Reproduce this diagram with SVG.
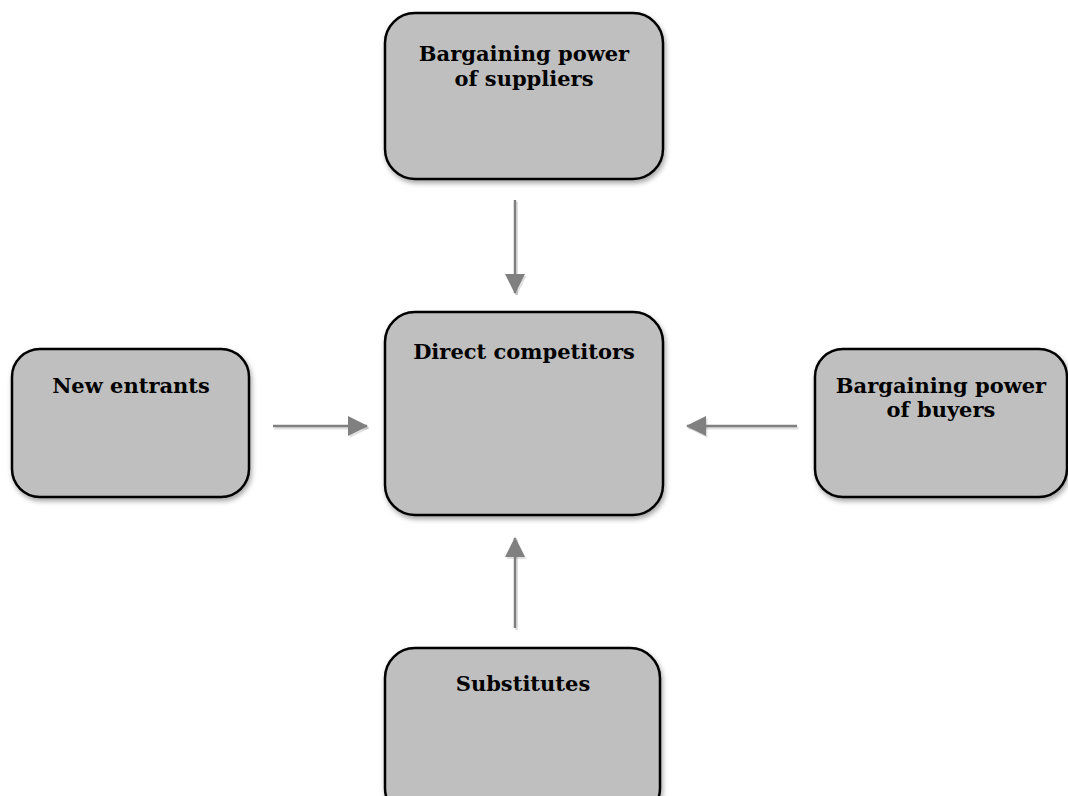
<svg xmlns="http://www.w3.org/2000/svg" width="1068" height="796" viewBox="0 0 1068 796">
  <style>
    .box { fill: #bfbfbf; stroke: #000000; stroke-width: 2.5; filter: url(#shadow); }
    .lbl { font-family: "DejaVu Serif", "Liberation Serif", serif; font-weight: bold; font-size: 21px; fill: #000000; text-anchor: middle; }
    .conn { stroke: #808080; stroke-width: 2.5; fill: none; marker-end: url(#arrow); }
    .cshadow { stroke: #000000; stroke-opacity: 0.12; stroke-width: 3; fill: none; marker-end: url(#arrowsh); }
  </style>
  <defs>
    <filter id="shadow" x="-10%" y="-10%" width="125%" height="130%">
      <feDropShadow dx="1.5" dy="3" stdDeviation="2.5" flood-color="#000000" flood-opacity="0.35"/>
    </filter>
    <marker id="arrow" viewBox="0 0 20 20" refX="19" refY="10" markerWidth="20" markerHeight="20" markerUnits="userSpaceOnUse" orient="auto">
      <path d="M0,0 L20,10 L0,20 Z" fill="#808080"/>
    </marker>
    <marker id="arrowsh" viewBox="0 0 20 20" refX="19" refY="10" markerWidth="20" markerHeight="20" markerUnits="userSpaceOnUse" orient="auto">
      <path d="M0,0 L20,10 L0,20 Z" fill="#000000" fill-opacity="0.12"/>
    </marker>
  </defs>
  <rect width="1068" height="796" fill="#ffffff"/>

  <g id="connectors">
    <line class="cshadow" x1="516.5" y1="202" x2="516.5" y2="295"/>
    <line class="cshadow" x1="274.5" y1="428" x2="368.5" y2="428"/>
    <line class="cshadow" x1="798.5" y1="428" x2="688.5" y2="428"/>
    <line class="cshadow" x1="516.5" y1="630" x2="516.5" y2="540"/>
    <line class="conn" x1="515" y1="200" x2="515" y2="293"/>
    <line class="conn" x1="273" y1="426" x2="367" y2="426"/>
    <line class="conn" x1="797" y1="426" x2="687" y2="426"/>
    <line class="conn" x1="515" y1="628" x2="515" y2="538"/>
  </g>

  <g id="suppliers">
    <rect class="box" x="385" y="13" width="278" height="166" rx="30" ry="30"/>
    <text class="lbl" x="524" y="61">Bargaining power</text>
    <text class="lbl" x="524" y="86">of suppliers</text>
  </g>

  <g id="competitors">
    <rect class="box" x="385" y="312" width="278" height="203" rx="30" ry="30"/>
    <text class="lbl" x="524" y="359">Direct competitors</text>
  </g>

  <g id="entrants">
    <rect class="box" x="12" y="349" width="237" height="148" rx="28" ry="28"/>
    <text class="lbl" x="131" y="393">New entrants</text>
  </g>

  <g id="buyers">
    <rect class="box" x="815" y="349" width="252" height="148" rx="28" ry="28"/>
    <text class="lbl" x="941" y="393">Bargaining power</text>
    <text class="lbl" x="941" y="417">of buyers</text>
  </g>

  <g id="substitutes">
    <rect class="box" x="385" y="648" width="275" height="170" rx="30" ry="30"/>
    <text class="lbl" x="523" y="691">Substitutes</text>
  </g>
</svg>
